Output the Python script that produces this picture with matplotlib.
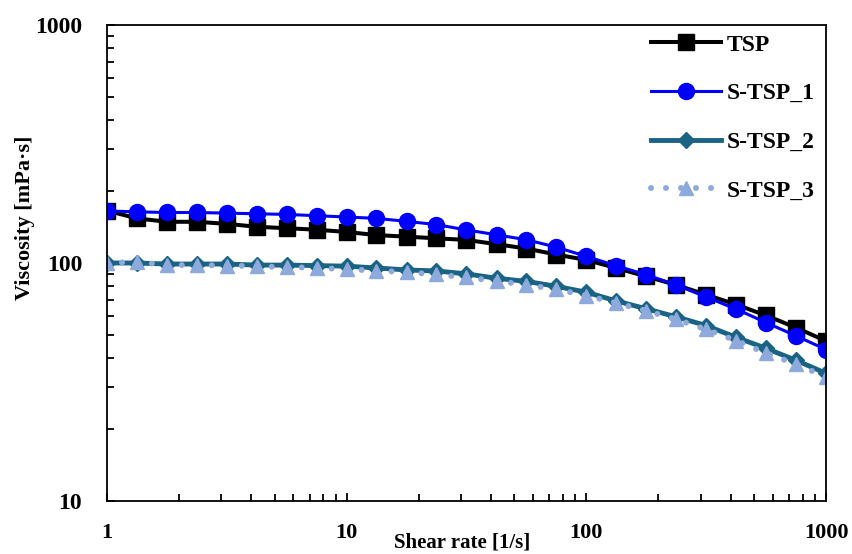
import matplotlib
matplotlib.use("Agg")
import matplotlib.pyplot as plt
from matplotlib.ticker import FixedLocator, FixedFormatter, LogLocator, NullFormatter

# shear rates, 8 points per decade
shear_rate = [1, 1.33, 1.78, 2.37, 3.16, 4.22, 5.62, 7.5, 10, 13.3, 17.8, 23.7, 31.6,
              42.2, 56.2, 75, 100, 133, 178, 237, 316, 422, 562, 750, 1000]

# viscosity [mPa*s]
tsp = [166, 154, 149, 149, 146, 142, 140, 138, 135, 131, 129, 127, 125,
       120, 115, 108.5, 103, 95.3, 87.8, 80.9, 73.6, 66.9, 60.2, 53.5, 47.0]
s_tsp_1 = [165.5, 164, 163, 163, 162, 161, 160, 158, 156, 154, 149.6, 145, 137.7,
           131.4, 125.2, 116.6, 106.6, 97.4, 89.2, 80.9, 72.0, 64.0, 56.2, 49.4, 43.3]
s_tsp_2 = [100, 100, 99, 99, 99, 98, 98, 97.5, 97, 95.3, 93.5, 92.6, 90,
           86.3, 83.7, 79.8, 75.4, 69.3, 64.2, 59.4, 54.6, 48.7, 43.8, 39.0, 34.4]
s_tsp_3 = [100, 101, 98, 98, 97.5, 97, 96, 95.5, 94, 93, 91.5, 89.5, 87,
           84, 81, 77.5, 73, 68, 63, 58, 52.6, 47.2, 41.8, 37.6, 33.2]

x_ticks = [1, 10, 100, 1000]
y_ticks = [10, 100, 1000]

W, H = 852, 554
fig = plt.figure(figsize=(W / 100, H / 100), dpi=100)
L, R, T, B = 107, 826, 25, 501
ax = fig.add_axes([L / W, 1 - B / H, (R - L) / W, (B - T) / H])

font = "Liberation Serif"

ax.plot(shear_rate, tsp, color="black", lw=2.9, marker="s", ms=11, label="TSP")
ax.plot(shear_rate, s_tsp_1, color="#0000FF", lw=2.2, marker="o", ms=11.5, label="S-TSP_1")
ax.plot(shear_rate, s_tsp_2, color="#1A6385", lw=3.5, marker="D", ms=8, label="S-TSP_2")
ax.plot(shear_rate, s_tsp_3, color="#8EA9DB", lw=4.3, linestyle=(0, (0.01, 2.5)),
        dash_capstyle="round", marker="^", ms=9.5, label="S-TSP_3")

ax.set_xscale("log")
ax.set_yscale("log")
ax.set_xlim(1, 1000)
ax.set_ylim(10, 1000)

ax.xaxis.set_major_locator(FixedLocator(x_ticks))
ax.xaxis.set_major_formatter(FixedFormatter([str(v) for v in x_ticks]))
ax.yaxis.set_major_locator(FixedLocator(y_ticks))
ax.yaxis.set_major_formatter(FixedFormatter([str(v) for v in y_ticks]))
ax.xaxis.set_minor_locator(LogLocator(base=10, subs=range(2, 10)))
ax.yaxis.set_minor_locator(LogLocator(base=10, subs=range(2, 10)))
ax.xaxis.set_minor_formatter(NullFormatter())
ax.yaxis.set_minor_formatter(NullFormatter())

ax.tick_params(axis="both", which="both", direction="in", width=1.3,
               top=False, right=False)
ax.tick_params(axis="both", which="major", length=6)
ax.tick_params(axis="both", which="minor", length=4.8)
ax.tick_params(axis="x", which="major", pad=16)
ax.tick_params(axis="y", which="major", pad=18)
for spine in ax.spines.values():
    spine.set_linewidth(1.3)

for lbl in ax.get_xticklabels():
    lbl.set_fontfamily(font)
    lbl.set_fontweight("bold")
    lbl.set_fontsize(16)
for lbl in ax.get_yticklabels():
    lbl.set_fontfamily(font)
    lbl.set_fontweight("bold")
    lbl.set_fontsize(17)

fig.text(25 / W, 1 - 218 / H, "Viscosity [mPa\u00b7s]", rotation=90, ha="center", va="center",
         fontfamily=font, fontweight="bold", fontsize=16)
fig.text(462 / W, 1 - 552 / H, "Shear rate [1/s]", ha="center", va="bottom",
         fontfamily=font, fontweight="bold", fontsize=15)

leg = ax.legend(loc="upper left", bbox_to_anchor=(651 / W, 1 - 34 / H),
                bbox_transform=fig.transFigure, frameon=False, borderpad=0,
                borderaxespad=0, handlelength=2.95, handletextpad=0.25,
                labelspacing=1.15, numpoints=1,
                prop={"family": font, "weight": "bold", "size": 17})

fig.savefig("out.png", dpi=100)
